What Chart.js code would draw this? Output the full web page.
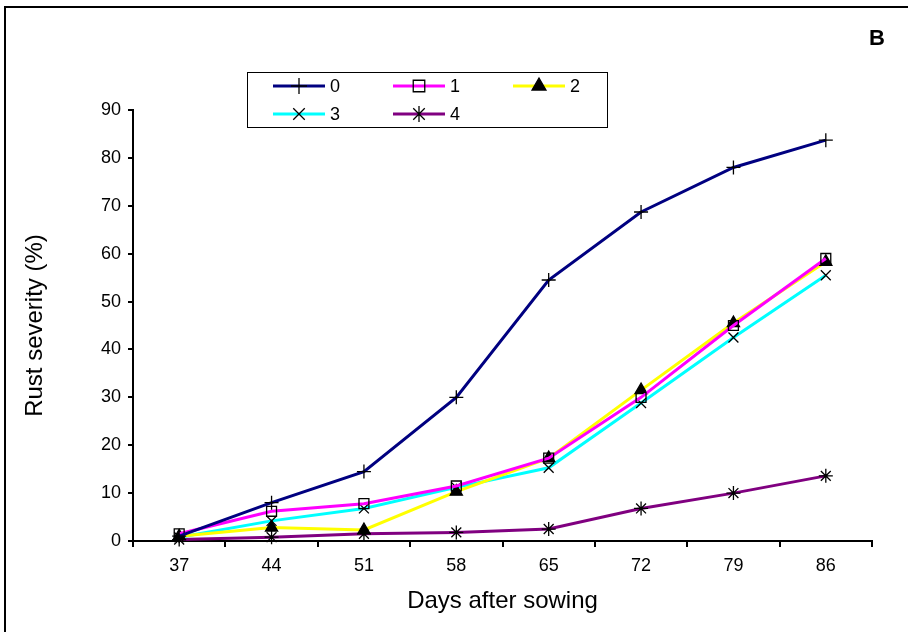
<!DOCTYPE html>
<html>
<head>
<meta charset="utf-8">
<script src="https://cdn.jsdelivr.net/npm/chart.js@4/dist/chart.umd.min.js"></script>
<style>
  html, body { margin: 0; padding: 0; background: #fff; }
  #wrap { width: 908px; height: 632px; }
</style>
</head>
<body>
<div id="wrap"><canvas id="rust_chart" width="908" height="632"></canvas></div>
<script>
// days after sowing
var days = ['37', '44', '51', '58', '65', '72', '79', '86'];

// rust severity (%) per treatment
var sev0 = [1.0, 8.0, 14.5, 30.0, 54.5, 68.7, 78.0, 83.7];
var sev1 = [1.5, 6.2, 7.8, 11.5, 17.3, 30.0, 45.0, 59.0];
var sev2 = [1.0, 2.8, 2.3, 10.3, 17.3, 31.5, 45.5, 58.3];
var sev3 = [0.8, 4.2, 6.8, 11.2, 15.3, 28.8, 42.5, 55.5];
var sev4 = [0.3, 0.8, 1.5, 1.8, 2.5, 6.8, 10.0, 13.6];

var seriesNames = ['0', '1', '2', '3', '4'];

var FONT = "'Liberation Sans', Arial, sans-serif";

var makeSet = function(label, data, color, style, fill) {
    return {
        label: label,
        data: data,
        borderColor: color,
        backgroundColor: color,
        borderWidth: 3,
        pointStyle: style,
        pointRadius: 7,
        pointHoverRadius: 7,
        pointBorderColor: '#000',
        pointBorderWidth: 1.3,
        pointBackgroundColor: fill,
        tension: 0,
        clip: false
    };
};

var drawMarker = function(ctx, style, x, y, r, fill) {
    ctx.save();
    ctx.strokeStyle = '#000';
    ctx.lineWidth = 1.3;
    ctx.beginPath();
    if (style === 'cross') {
        ctx.moveTo(x - r, y); ctx.lineTo(x + r, y);
        ctx.moveTo(x, y - r); ctx.lineTo(x, y + r);
        ctx.stroke();
    } else if (style === 'rect') {
        var s = r * 0.72;
        ctx.fillStyle = fill;
        ctx.rect(x - s, y - s, 2 * s, 2 * s);
        ctx.fill(); ctx.stroke();
    } else if (style === 'triangle') {
        ctx.fillStyle = '#000';
        ctx.moveTo(x, y - r);
        ctx.lineTo(x + r * 0.87, y + r * 0.5);
        ctx.lineTo(x - r * 0.87, y + r * 0.5);
        ctx.closePath();
        ctx.fill(); ctx.stroke();
    } else if (style === 'crossRot') {
        var d = r * 0.72;
        ctx.moveTo(x - d, y - d); ctx.lineTo(x + d, y + d);
        ctx.moveTo(x + d, y - d); ctx.lineTo(x - d, y + d);
        ctx.stroke();
    } else if (style === 'star') {
        var d2 = r * 0.72;
        ctx.moveTo(x, y - r); ctx.lineTo(x, y + r);
        ctx.moveTo(x - d2, y - d2); ctx.lineTo(x + d2, y + d2);
        ctx.moveTo(x + d2, y - d2); ctx.lineTo(x - d2, y + d2);
        ctx.stroke();
    }
    ctx.restore();
};

// outer frame, panel letter and the boxed legend
var framePlugin = {
    id: 'framePlugin',
    beforeDraw: function(chart) {
        var ctx = chart.ctx;
        ctx.save();
        ctx.fillStyle = '#fff';
        ctx.fillRect(0, 0, chart.width, chart.height);
        ctx.strokeStyle = '#000';
        ctx.lineWidth = 2;
        ctx.beginPath();
        ctx.moveTo(5, 632);
        ctx.lineTo(5, 7);
        ctx.lineTo(908, 7);
        ctx.stroke();
        ctx.fillStyle = '#000';
        ctx.font = "bold 22px " + FONT;
        ctx.textAlign = 'center';
        ctx.textBaseline = 'middle';
        ctx.fillText('B', 877, 39);
        ctx.restore();
    },
    afterDraw: function(chart) {
        var ctx = chart.ctx;
        ctx.save();
        ctx.fillStyle = '#fff';
        ctx.fillRect(247, 72, 360, 55);
        ctx.strokeStyle = '#000';
        ctx.lineWidth = 1;
        ctx.strokeRect(247.5, 72.5, 360, 55);
        var colX = [273, 393, 513];
        var rowY = [86, 114];
        ctx.font = "18px " + FONT;
        ctx.textBaseline = 'middle';
        ctx.textAlign = 'left';
        chart.data.datasets.forEach(function(ds, i) {
            var x = colX[i % 3];
            var y = rowY[Math.floor(i / 3)];
            ctx.strokeStyle = ds.borderColor;
            ctx.lineWidth = 3;
            ctx.beginPath();
            ctx.moveTo(x, y);
            ctx.lineTo(x + 52, y);
            ctx.stroke();
            drawMarker(ctx, ds.pointStyle, x + 26, y, 8, ds.pointBackgroundColor);
            ctx.fillStyle = '#000';
            ctx.fillText(ds.label, x + 57, y + 1);
        });
        ctx.restore();
    }
};

var ctx = document.getElementById('rust_chart');
var chart = new Chart(ctx, {
    type: 'line',
    data: {
        labels: days,
        datasets: [
            makeSet(seriesNames[0], sev0, '#000080', 'cross', '#000'),
            makeSet(seriesNames[1], sev1, '#FF00FF', 'rect', 'rgba(255,255,255,0)'),
            makeSet(seriesNames[2], sev2, '#FFFF00', 'triangle', '#000'),
            makeSet(seriesNames[3], sev3, '#00FFFF', 'crossRot', '#000'),
            makeSet(seriesNames[4], sev4, '#800080', 'star', '#000')
        ]
    },
    options: {
        responsive: false,
        animation: false,
        layout: { padding: { top: 110, right: 36, bottom: 0, left: 0 } },
        plugins: {
            legend: { display: false },
            tooltip: { enabled: false }
        },
        scales: {
            x: {
                offset: true,
                grid: {
                    offset: true,
                    drawOnChartArea: false,
                    drawTicks: true,
                    tickLength: 6,
                    color: '#000',
                    lineWidth: 2
                },
                border: { color: '#000', width: 2 },
                ticks: {
                    color: '#000',
                    padding: 8,
                    maxRotation: 0,
                    font: { family: FONT, size: 18 }
                },
                title: {
                    display: true,
                    text: 'Days after sowing',
                    color: '#000',
                    padding: { top: 0, bottom: 16 },
                    font: { family: FONT, size: 24 }
                },
                afterFit: function(scale) { scale.height = 91; }
            },
            y: {
                min: 0,
                max: 90,
                ticks: {
                    stepSize: 10,
                    color: '#000',
                    padding: 7,
                    font: { family: FONT, size: 18 }
                },
                grid: {
                    drawOnChartArea: false,
                    drawTicks: true,
                    tickLength: 5,
                    color: '#000',
                    lineWidth: 2
                },
                border: { color: '#000', width: 2 },
                title: {
                    display: true,
                    text: 'Rust severity (%)',
                    color: '#000',
                    padding: { top: 21, bottom: 0 },
                    font: { family: FONT, size: 24 }
                },
                afterFit: function(scale) { scale.width = 133; }
            }
        }
    },
    plugins: [framePlugin]
});
</script>
</body>
</html>
